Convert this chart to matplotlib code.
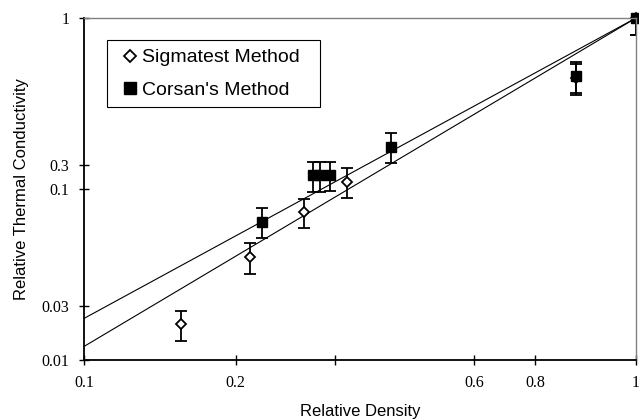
import matplotlib
matplotlib.use("Agg")
import matplotlib.pyplot as plt
from matplotlib.ticker import FixedLocator, FixedFormatter, NullLocator

# Sigmatest method: relative density, relative conductivity, error
sig_x = [0.15, 0.20, 0.25, 0.30, 0.78, 1.0]
sig_y = [0.0162, 0.0402, 0.0731, 0.110, 0.445, 1.0]
sig_err = [0.0032, 0.0082, 0.014, 0.022, 0.09, 0.2]

# Corsan's method
cor_x = [0.21, 0.26, 0.268, 0.279, 0.36, 0.78, 1.0]
cor_y = [0.0644, 0.120, 0.120, 0.120, 0.177, 0.458, 1.0]
cor_err = [0.013, 0.024, 0.024, 0.023, 0.036, 0.092, 0.2]

# power-law fit lines (end points)
fit_x = [0.1, 1.0]
cor_fit = [0.0175, 1.0]
sig_fit = [0.012, 1.0]

# tick labels as they appear on the original figure
xtick_pos = [0.1, 0.1883, 0.2845, 0.5087, 0.6561, 1.0]
xtick_lab = ["0.1", "0.2", "", "0.6", "0.8", "1"]
ytick_pos = [0.01, 0.0207, 0.1, 0.1381, 1.0]
ytick_lab = ["0.01", "0.03", "0.1", "0.3", "1"]

sans = "Liberation Sans"
serif = "Liberation Serif"

fig = plt.figure(figsize=(6.39, 4.2), dpi=100)
ax = fig.add_axes([84 / 639, 60 / 420, 552 / 639, 342 / 420])
ax.set_xscale("log")
ax.set_yscale("log")
ax.set_xlim(0.1, 1)
ax.set_ylim(0.01, 1)

ax.plot(fit_x, cor_fit, color="black", lw=0.8)
ax.plot(fit_x, sig_fit, color="black", lw=0.8)

ax.errorbar(sig_x, sig_y, yerr=sig_err, fmt="none", ecolor="black",
            elinewidth=1.3, capsize=4.2, capthick=1.3)
ax.errorbar(cor_x, cor_y, yerr=cor_err, fmt="none", ecolor="black",
            elinewidth=1.3, capsize=4.2, capthick=1.3)

ax.plot(sig_x, sig_y, ls="none", marker="D", ms=5.2, mfc="white",
        mec="black", mew=1.3, clip_on=False, label="Sigmatest Method")
ax.plot(cor_x, cor_y, ls="none", marker="s", ms=7.2, color="black",
        clip_on=False, label="Corsan's Method")

ax.xaxis.set_major_locator(FixedLocator(xtick_pos))
ax.xaxis.set_major_formatter(FixedFormatter(xtick_lab))
ax.xaxis.set_minor_locator(NullLocator())
ax.yaxis.set_major_locator(FixedLocator(ytick_pos))
ax.yaxis.set_major_formatter(FixedFormatter(ytick_lab))
ax.yaxis.set_minor_locator(NullLocator())

ax.tick_params(axis="both", direction="inout", length=7, width=1,
               color="black", labelsize=11.5)
ax.tick_params(axis="x", pad=7)
ax.tick_params(axis="y", pad=7)
for lab in ax.get_xticklabels() + ax.get_yticklabels():
    lab.set_fontfamily(serif)

ax.spines["left"].set_linewidth(1.3)
ax.spines["bottom"].set_linewidth(1.3)
ax.spines["top"].set_color("#808080")
ax.spines["right"].set_color("#808080")
ax.spines["top"].set_linewidth(1)
ax.spines["right"].set_linewidth(1)

ax.set_xlabel("Relative Density", fontfamily=sans, fontsize=12, labelpad=10)
ax.set_ylabel("Relative Thermal Conductivity", fontfamily=sans, fontsize=12,
              labelpad=9)

leg = ax.legend(loc="upper left", bbox_to_anchor=(0.0417, 0.7398, 0.3858, 0.1959),
                mode="expand", borderaxespad=0, prop={"family": sans, "size": 14},
                fancybox=False, framealpha=1, edgecolor="black",
                handlelength=1.5, handletextpad=-0.14, borderpad=0.45,
                labelspacing=0.75, markerscale=1.1)
leg.get_frame().set_linewidth(0.8)

fig.savefig("out.png", dpi=100)
